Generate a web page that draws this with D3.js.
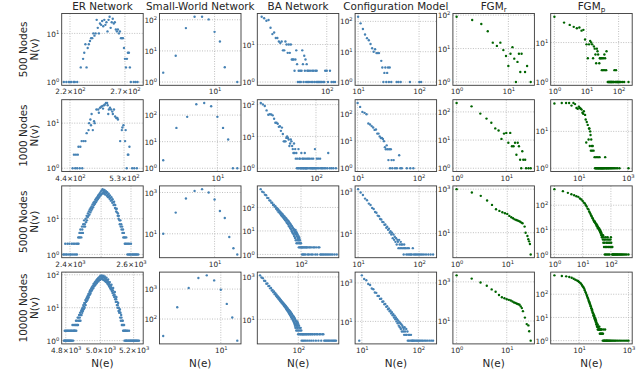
<!DOCTYPE html>
<html>
<head>
<meta charset="utf-8">
<script src="https://cdn.jsdelivr.net/npm/d3@7"></script>
<style>
  body { margin: 0; background: #fff; }
  svg text { font-family: "DejaVu Sans", sans-serif; fill: #262626; }
</style>
</head>
<body>
<svg id="chart" width="637" height="373"></svg>
<script>
const rowLabels = ['500 Nodes', '1000 Nodes', '5000 Nodes', '10000 Nodes'];
const colTitles = [['ER Network'], ['Small-World Network'], ['BA Network'], ['Configuration Model'], ['FGM', 'r'], ['FGM', 'p']];

// ---- 500 nodes
const er500 = [[215,1],[217,1],[219,1],[220,1],[221,1],[223,1],[224,1],[226,1],[229,2],[231,3],[232,4],[233,6],[234,2],[235,5],[236,6],[237,7],[238,8],[239,8],[240,10],[241,9],[242,10],[243,19],[244,13],[245,10],[246,16],[247,15],[248,18],[249,14],[250,19],[251,15],[252,17],[253,11],[254,19],[255,22],[256,13],[257,17],[258,20],[259,16],[260,17],[261,12],[262,11],[263,12],[264,10],[265,11],[266,8],[267,8],[268,8],[269,5],[270,3],[271,2],[272,3],[273,4],[274,4],[275,2],[276,1],[279,1],[281,1],[283,1]];
const sw500 = [[4,2],[5,7],[6,54],[7,125],[8,125],[9,103],[10,41],[11,20],[12,3],[15,1]];
const ba500 = [[12,55],[13,50],[14,43],[15,45],[16,28],[17,19],[18,21],[19,15],[20,15],[21,12],[22,11],[23,12],[24,7],[25,7],[26,12],[27,10],[28,6],[29,10],[30,6],[31,10],[32,4],[33,4],[34,4],[35,2],[36,4],[37,7],[38,3],[39,1],[40,2],[41,1],[42,2],[43,1],[44,2],[45,7],[46,3],[47,1],[48,5],[49,2],[50,4],[51,1],[52,3],[53,2],[54,1],[55,2],[56,1],[58,2],[60,1],[62,2],[63,1],[65,2],[67,1],[69,2],[71,1],[72,2],[74,1],[76,1],[79,1],[82,1],[85,1],[89,1],[92,1],[95,2],[100,2],[104,1],[111,2],[117,1],[124,1],[131,1]];
const cm500 = [[10,142],[11,86],[12,56],[13,37],[14,28],[15,24],[16,18],[17,13],[18,10],[19,12],[20,9],[21,9],[22,9],[24,5],[25,3],[26,1],[27,2],[28,3],[29,1],[30,2],[31,3],[32,1],[33,3],[35,1],[43,1],[46,1],[50,1],[71,1],[101,1],[108,1]];
const fgmr500 = [[1,89],[2,71],[3,54],[4,33],[5,15],[6,12],[7,15],[8,9],[9,6],[10,3],[11,7],[12,11],[13,5],[14,1],[15,4],[16,7],[17,2],[18,7],[21,2],[23,3],[27,1]];
const fgmp500 = [[1,45],[2,32],[3,28],[4,25],[5,23],[6,24],[7,20],[8,21],[9,12],[10,9],[11,4],[12,9],[13,11],[14,10],[15,9],[16,4],[17,8],[18,7],[19,5],[20,3],[21,7],[22,6],[23,5],[25,3],[26,4],[27,4],[29,4],[30,2],[31,4],[33,2],[34,4],[36,5],[37,2],[38,4],[41,2],[42,6],[46,1],[48,1],[50,1],[52,1],[54,1],[56,1],[58,1],[60,1],[62,1],[65,1],[68,1],[70,1],[74,2],[77,1],[80,1],[83,2],[86,1],[89,1],[93,1],[96,1],[100,1],[104,1],[110,1],[118,1],[133,1],[149,1],[203,1]];

// ---- 1000 nodes
const er1000 = [[444,1],[446,2],[448,1],[449,2],[451,1],[452,2],[453,3],[455,1],[456,3],[458,4],[459,1],[461,4],[464,4],[466,6],[469,7],[470,10],[472,12],[473,9],[474,16],[476,7],[478,11],[479,10],[482,20],[485,20],[486,17],[488,22],[490,23],[492,24],[493,21],[495,25],[496,26],[498,28],[500,28],[501,25],[502,16],[503,20],[505,22],[507,20],[509,18],[510,16],[512,20],[514,14],[516,13],[518,13],[519,12],[523,4],[526,7],[527,8],[529,9],[532,4],[533,7],[535,1],[537,2],[538,2],[540,3],[545,1],[549,1],[554,1]];
const sw1000 = [[4,2],[5,33],[6,86],[7,256],[8,286],[9,214],[10,86],[11,33],[12,12],[13,1],[14,1]];
const ba1000 = [[12,113],[13,102],[14,91],[15,66],[16,48],[17,50],[18,49],[19,46],[20,36],[21,27],[22,27],[23,25],[24,20],[25,21],[26,15],[27,19],[28,12],[29,7],[30,7],[31,7],[32,9],[33,10],[34,9],[35,8],[36,5],[37,6],[38,8],[39,7],[40,5],[41,4],[42,3],[43,6],[44,3],[45,4],[46,2],[47,3],[48,1],[49,2],[50,1],[51,4],[52,1],[53,2],[54,2],[55,1],[56,1],[57,3],[58,1],[59,2],[60,1],[61,2],[62,1],[63,1],[64,2],[65,3],[66,1],[67,1],[68,2],[69,1],[70,1],[72,2],[73,1],[75,2],[77,1],[79,2],[81,1],[83,1],[85,2],[87,1],[88,1],[90,2],[92,1],[94,1],[96,4],[99,1],[100,1],[103,2],[106,1],[109,2],[112,1],[117,2],[120,1],[125,1],[130,1],[137,1],[145,1],[155,1],[160,3],[170,1],[182,1],[195,1],[215,1]];
const cm1000 = [[10,257],[11,184],[12,120],[13,111],[14,99],[15,45],[16,41],[17,36],[18,32],[19,26],[20,27],[21,19],[22,19],[23,15],[24,13],[25,13],[26,12],[27,10],[28,6],[29,5],[30,7],[31,5],[32,2],[33,5],[34,1],[35,5],[36,2],[37,1],[39,2],[41,1],[44,1],[48,3],[50,1],[53,1],[64,1],[73,1],[82,1]];
const fgmr1000 = [[1,208],[2,158],[3,87],[4,58],[5,41],[6,26],[7,22],[8,11],[9,17],[10,18],[11,8],[12,18],[13,6],[14,6],[15,8],[16,3],[17,8],[18,6],[19,2],[20,1],[21,4],[22,2],[24,2],[25,1],[28,1],[31,1]];
const fgmp1000 = [[1,57],[2,59],[3,59],[4,59],[5,50],[6,59],[7,55],[8,43],[9,41],[10,47],[11,43],[12,41],[13,39],[14,32],[15,30],[16,35],[18,28],[19,21],[20,5],[21,18],[23,15],[25,6],[26,12],[27,12],[28,4],[29,10],[30,8],[31,3],[32,6],[34,4],[35,3],[37,4],[40,3],[44,2],[46,1],[48,1],[51,2],[53,1],[55,1],[57,1],[60,2],[63,1],[65,1],[67,1],[70,2],[73,1],[76,1],[80,1],[84,1],[88,1],[92,1],[97,1],[102,1],[108,1],[114,1],[119,2],[125,1],[131,1],[140,1],[150,1],[160,1],[170,1],[185,1],[200,1],[215,1],[235,1],[260,1],[290,1],[330,1],[380,1],[458,1],[1069,1]];

// ---- 5000 nodes
const er5000 = [[2379,1],[2382,1],[2385,2],[2387,1],[2390,1],[2392,2],[2395,1],[2398,2],[2400,1],[2403,1],[2405,2],[2408,1],[2410,2],[2413,1],[2415,2],[2418,1],[2420,2],[2422,1],[2424,2],
  [2426,3],[2427,2],[2429,3],[2430,4],[2432,3],[2433,5],[2435,4],[2436,3],[2438,6],[2439,5],[2441,4],[2442,7],[2444,6],[2445,9],[2447,7],[2448,6],[2450,10],[2451,8],[2453,12],[2454,9],
  [2456,11],[2457,14],[2459,12],[2460,16],[2462,13],[2463,18],[2465,15],[2466,20],[2468,17],[2469,22],[2471,19],[2472,25],[2474,21],[2475,28],[2477,24],[2478,30],[2480,26],[2481,34],[2483,29],[2484,37],
  [2486,32],[2487,40],[2489,35],[2490,44],[2492,38],[2493,48],[2495,41],[2496,52],[2498,45],[2499,57],[2501,48],[2502,62],[2504,51],[2505,67],[2507,54],[2508,60],[2510,50],[2511,64],[2513,56],[2514,47],
  [2516,59],[2517,52],[2519,44],[2520,55],[2522,47],[2523,40],[2525,50],[2526,42],[2528,36],[2529,45],[2531,38],[2532,32],[2534,40],[2535,33],[2537,28],[2538,35],[2540,29],[2541,24],[2543,30],[2544,25],
  [2546,20],[2547,24],[2549,19],[2550,16],[2552,19],[2553,15],[2555,12],[2556,14],[2558,10],[2559,12],[2561,9],[2562,7],[2564,9],[2565,6],[2567,7],[2568,5],[2570,6],[2571,4],[2573,5],[2574,3],
  [2576,4],[2577,3],[2579,2],[2580,3],[2582,2],[2584,3],[2586,2],[2588,1],[2590,2],[2592,1],[2594,2],[2596,1],[2598,1],[2600,2],[2603,1],[2606,1],[2609,1],[2612,1],[2615,1],[2618,1],[2621,1],[2625,1]];
const sw5000 = [[4,10],[5,106],[6,509],[7,1197],[8,1449],[9,1000],[10,456],[11,127],[12,58],[13,7],[14,2],[15,1]];
const ba5000 = [[12,600],[13,470],[14,440],[15,350],[16,330],[17,255],[18,250],[19,200],[20,195],[21,160],[22,158],[23,128],[24,132],[25,108],[26,112],[27,88],[28,96],[29,74],[30,84],[31,63],[32,72],[33,55],[34,64],[35,48],[36,57],[37,42],[38,51],[39,37],[40,45],[41,33],[42,41],[43,29],[44,37],[45,27],[46,34],[47,23],[48,30],[49,21],[50,28],[51,19],[52,26],[53,16],[54,23],[55,15],[56,21],[57,13],[58,19],[59,12],[60,17],[61,10],[62,16],[63,9],[64,14],[65,8],[66,13],[67,11],[68,7],[69,12],[70,6],[71,10],[72,9],[73,5],[74,8],[75,11],[76,4],[77,7],[78,9],[79,3],[80,6],[81,8],[82,4],[83,5],[84,7],[85,3],[86,5],[87,4],[88,6],[89,2],[90,4],[91,3],[92,5],[93,2],[95,4],[96,3],[98,2],[100,3],[101,2],[104,2],[106,1],[108,2],[110,2],[112,1],[115,2],[118,1],[120,2],[124,2],[127,1],[130,2],[134,2],[138,2],[142,1],[147,2],[152,1],[157,2],[163,2],[170,1],[177,2],[185,1],[193,2],[202,2],[212,1],[222,2],[235,1],[248,2],[262,2],[275,1],[290,1],[310,1],[330,1],[355,1],[380,1],[410,1],[440,1],[480,1],[520,1],[580,1],[653,1]];
const cm5000 = [[10,1327],[11,920],[12,700],[13,470],[14,390],[15,270],[16,230],[17,168],[18,150],[19,108],[20,98],[21,72],[22,68],[23,50],[24,47],[25,36],[26,35],[27,26],[28,27],[29,19],[30,21],[31,15],[32,17],[33,11],[34,13],[35,9],[36,11],[37,6],[38,9],[39,5],[40,7],[41,4],[42,6],[43,3],[44,5],[45,4],[46,2],[47,5],[48,3],[49,2],[50,4],[51,3],[52,2],[53,3],[55,2],[56,1],[57,3],[58,2],[60,2],[62,1],[64,2],[66,1],[68,2],[70,1],[73,1],[76,1],[79,2],[82,1],[86,1],[90,1],[95,1],[100,1],[106,1],[112,1],[120,1],[130,1],[142,1],[155,1],[170,1]];
const fgmr5000 = [[1,1000],[2,702],[3,492],[4,300],[5,189],[6,119],[7,100],[8,87],[9,78],[10,73],[11,59],[12,51],[13,46],[14,41],[15,38],[16,36],[17,34],[18,32],[19,29],[20,27],[22,19],[23,10],[25,7],[26,5],[27,4],[28,3],[29,1]];
const fgmp5000 = [[1,450],[2,373],[3,318],[4,281],[5,256],[6,233],[7,219],[8,187],[9,170],[10,150],[11,128],[12,117],[13,100],[14,88],[15,73],[16,68],[17,56],[18,50],[19,44],[20,38],[21,35],[22,30],[23,29],[24,25],[25,23],[26,21],[27,22],[28,19],[29,18],[30,16],[31,17],[32,14],[33,15],[34,12],[35,13],[36,11],[37,12],[38,10],[39,11],[40,9],[41,10],[42,8],[43,9],[44,7],[45,8],[46,6],[47,7],[48,5],[49,6],[50,5],[52,4],[53,6],[54,3],[56,5],[57,2],[58,4],[60,3],[61,1],[63,4],[64,2],[66,5],[67,1],[69,3],[70,2],[72,4],[74,1],[75,3],[77,5],[79,2],[80,4],[82,1],[84,3],[86,2],[88,4],[90,1],[92,3],[95,2],[97,4],[100,5],[103,3],[106,2],[110,1],[113,2],[117,1],[120,1],[126,1],[132,1],[140,1],[148,1],[156,1],[165,1],[175,1],[186,1],[198,1],[212,1],[228,1],[245,1],[265,1],[290,1],[320,1],[360,1],[420,1]];

// ---- 10000 nodes
const er10000 = [[4790,1],[4792,1],[4794,2],[4796,1],[4798,1],[4800,2],[4802,1],[4804,1],[4806,2],[4808,1],[4810,2],[4812,1],[4814,1],[4816,2],[4818,1],[4820,2],[4822,1],[4824,1],[4826,2],[4828,1],[4830,2],[4832,1],[4834,2],[4836,1],[4838,3],[4840,2],[4842,1],[4844,2],[4846,3],[4848,2],
  [4850,2],[4852,3],[4854,2],[4856,3],[4858,4],[4860,2],[4862,3],[4864,4],[4866,3],[4868,5],[4870,3],[4872,5],[4874,4],[4876,6],[4878,4],[4880,5],[4882,7],[4884,4],[4886,6],[4888,8],
  [4890,6],[4892,9],[4894,7],[4896,10],[4898,8],[4900,12],[4902,9],[4904,11],[4906,14],[4908,10],[4910,13],[4912,17],[4914,12],[4916,15],[4918,19],[4920,16],[4922,21],[4924,17],[4926,23],[4928,19],
  [4930,26],[4932,21],[4934,24],[4936,30],[4938,25],[4940,34],[4942,27],[4944,31],[4946,38],[4948,32],[4950,42],[4952,35],[4954,40],[4956,47],[4958,39],[4960,53],[4962,44],[4964,49],[4966,57],[4968,47],
  [4970,62],[4972,51],[4974,58],[4976,67],[4978,55],[4980,72],[4982,60],[4984,66],[4986,78],[4988,63],[4990,82],[4992,68],[4994,74],[4996,88],[4998,70],[5000,92],[5002,74],[5004,85],[5006,96],[5008,76],
  [5010,90],[5012,73],[5014,84],[5016,94],[5018,71],[5020,86],[5022,68],[5024,80],[5026,89],[5028,65],[5030,78],[5032,61],[5034,72],[5036,82],[5038,58],[5040,68],[5042,53],[5044,62],[5046,72],[5048,49],
  [5050,57],[5052,44],[5054,52],[5056,60],[5058,40],[5060,47],[5062,36],[5064,42],[5066,50],[5068,32],[5070,38],[5072,28],[5074,34],[5076,40],[5078,24],[5080,29],[5082,21],[5084,25],[5086,30],[5088,18],
  [5090,22],[5092,15],[5094,18],[5096,21],[5098,12],[5100,15],[5102,10],[5104,12],[5106,14],[5108,8],[5110,10],[5112,7],[5114,8],[5116,9],[5118,5],[5120,7],[5122,4],[5124,6],[5126,5],[5128,3],
  [5130,4],[5132,3],[5134,4],[5136,2],[5138,3],[5140,2],[5142,3],[5144,1],[5146,2],[5148,2],[5150,1],[5152,2],[5154,1],[5156,1],[5158,2],[5160,1],[5163,2],[5166,1],[5169,1],[5172,2],[5175,1],[5178,1],[5182,1],[5186,1],[5190,1],[5194,1],[5198,1],[5202,1],[5206,1],[5210,1],[5214,1],[5218,1],[5222,1],[5227,1],[5233,1]];
const sw10000 = [[4,27],[5,248],[6,1081],[7,2344],[8,2870],[9,1950],[10,947],[11,320],[12,113],[13,19]];
const ba10000 = [[12,1189],[13,940],[14,880],[15,660],[16,640],[17,480],[18,490],[19,370],[20,380],[21,290],[22,305],[23,232],[24,245],[25,190],[26,205],[27,155],[28,170],[29,130],[30,145],[31,110],[32,124],[33,94],[34,108],[35,82],[36,94],[37,72],[38,82],[39,63],[40,73],[41,56],[42,65],[43,50],[44,58],[45,44],[46,52],[47,39],[48,47],[49,35],[50,43],[51,31],[52,39],[53,28],[54,35],[55,25],[56,32],[57,23],[58,29],[59,20],[60,27],[61,18],[62,25],[63,16],[64,23],[65,15],[66,21],[67,13],[68,19],[69,12],[70,18],[71,11],[72,16],[73,10],[74,15],[75,9],[76,14],[77,8],[78,13],[79,7],[80,12],[81,6],[82,11],[83,5],[84,10],[85,4],[86,9],[87,6],[88,8],[89,3],[90,7],[91,5],[92,6],[93,4],[94,8],[95,3],[96,5],[97,7],[98,4],[99,2],[100,6],[102,3],[104,5],[106,2],[108,4],[110,3],[112,2],[114,4],[116,2],[118,3],[120,1],[123,2],[126,2],[129,1],[132,2],[135,2],[139,1],[143,2],[147,2],[151,1],[156,2],[161,2],[166,1],[172,2],[178,2],[184,1],[191,2],[198,2],[205,1],[213,2],[222,2],[231,1],[241,2],[252,2],[264,1],[277,2],[290,2],[305,1],[320,2],[338,2],[356,1],[375,2],[400,2],[420,1],[445,1],[470,1],[500,1],[530,1],[560,1],[600,1],[640,1],[680,1],[720,1],[760,1],[805,1]];
const cm10000 = [[9,1],[10,2472],[11,1600],[12,1380],[13,880],[14,780],[15,510],[16,470],[17,320],[18,305],[19,212],[20,210],[21,148],[22,150],[23,105],[24,108],[25,78],[26,80],[27,57],[28,61],[29,43],[30,47],[31,34],[32,37],[33,26],[34,30],[35,21],[36,24],[37,16],[38,20],[39,13],[40,16],[41,10],[42,13],[43,8],[44,11],[45,6],[46,9],[47,5],[48,8],[49,4],[50,7],[51,3],[52,6],[53,5],[54,3],[55,4],[56,2],[57,5],[58,3],[60,2],[61,4],[62,2],[64,3],[65,1],[67,2],[68,1],[70,2],[72,1],[74,2],[76,1],[78,1],[80,1],[83,1],[86,1],[90,1],[94,1],[98,1],[103,1],[108,1],[114,1],[120,1],[128,1],[136,1],[146,1],[158,1],[170,1],[182,1]];
const fgmr10000 = [[1,2154],[2,1468],[3,926],[4,631],[5,414],[6,316],[7,215],[8,165],[9,147],[10,131],[11,121],[12,112],[13,100],[14,89],[15,83],[16,76],[17,72],[18,68],[19,56],[20,46],[21,32],[23,15],[25,7],[27,6],[28,3],[30,1]];
const fgmp10000 = [[1,652],[2,610],[3,591],[4,553],[5,518],[6,469],[7,425],[8,398],[9,370],[10,338],[11,310],[12,287],[13,250],[14,220],[15,200],[16,175],[17,150],[18,126],[19,112],[20,95],[21,84],[22,72],[23,66],[24,57],[25,50],[26,45],[27,40],[28,36],[29,31],[30,30],[31,25],[32,24],[33,20],[34,21],[35,17],[36,16],[37,15],[38,12],[39,13],[40,11],[41,12],[42,9],[43,10],[44,8],[45,9],[46,7],[47,8],[48,6],[49,7],[50,5],[51,6],[52,5],[53,4],[54,5],[55,4],[56,5],[57,3],[58,4],[59,4],[60,3],[62,4],[63,3],[65,3],[66,4],[68,3],[69,2],[71,3],[72,2],[74,3],[76,2],[78,3],[80,2],[83,3],[85,2],[88,2],[91,1],[93,2],[97,3],[100,1],[104,1],[108,1],[113,3],[118,1],[124,1],[130,1],[137,1],[145,1],[155,1],[165,1],[178,1],[192,1],[210,1],[230,1],[255,1],[285,1],[320,1],[370,1],[430,1],[500,1],[600,1],[720,1],[860,1],[1000,1]];

const grid = [
  [er500, sw500, ba500, cm500, fgmr500, fgmp500],
  [er1000, sw1000, ba1000, cm1000, fgmr1000, fgmp1000],
  [er5000, sw5000, ba5000, cm5000, fgmr5000, fgmp5000],
  [er10000, sw10000, ba10000, cm10000, fgmr10000, fgmp10000]
];

// tick values shown on each panel
const xTicks = [
  [[220, 270], [10], [100], [10, 100], [1, 10], [1, 10, 100]],
  [[440, 530], [10], [100], [10, 100], [1, 10], [10, 1000]],
  [[2400, 2600], [10], [100], [10, 100], [1, 10], [1, 10, 100]],
  [[4800, 5000, 5200], [10], [100], [10, 100], [1, 10], [10, 1000]]
];
// extra vertical grid lines without a label
const xGridExtra = [[[], [], [], [], [], []], [[], [], [], [], [], []], [[2500], [], [], [], [], []], [[], [], [], [], [], []]];
const yTicks = [
  [[1, 10], [1, 10, 100], [1, 10], [1, 10, 100], [1, 10, 100], [1, 10]],
  [[1, 10], [1, 10, 100], [1, 10, 100], [1, 10, 100], [1, 10, 100], [1, 10]],
  [[1, 10], [10, 1000], [1, 10, 100], [10, 1000], [10, 1000], [1, 10, 100]],
  [[1, 10, 100], [100, 1000], [10, 1000], [10, 1000], [10, 1000], [1, 10, 100]]
];
// fixed x limits where the plot did not simply pad the data
const xLimits = [
  [[213.3, 289], null, [10.4, 148], [8.93, 194], null, null],
  [[427.6, 566.2], null, [10.5, 240], [9.1, 197], null, null],
  [[2374, 2642], null, [10.05, 729], [8.93, 194], null, null],
  [[4777, 5259], null, [10.3, 942], [7.6, 210], null, null]
];

const svg = d3.select('#chart');
const pw = 81.5, ph = 71.8;
const colX = c => 61.7 + c * 97.8;
const rowY = r => 13.5 + r * 86.2;

function padLog(ext) {
  const a = Math.log10(ext[0]), b = Math.log10(ext[1]);
  const m = (b - a) * 0.05;
  return [Math.pow(10, a - m), Math.pow(10, b + m)];
}

// tick label like 10^2 or 2.2x10^2
function sciLabel(t, v) {
  const p = Math.floor(Math.log10(v) + 1e-9);
  const m = v / Math.pow(10, p);
  t.text(null);
  const base = Math.abs(m - 1) < 1e-9 ? '10' : m.toFixed(1) + '\u00d710';
  t.append('tspan').text(base);
  t.append('tspan').attr('dy', -3).attr('font-size', 5.2).text(p);
}

grid.forEach((row, r) => {
  row.forEach((data, c) => {
    const g = svg.append('g').attr('transform', `translate(${colX(c)},${rowY(r)})`);
    const xd = xLimits[r][c] || padLog(d3.extent(data, d => d[0]));
    const yd = padLog(d3.extent(data, d => d[1]));
    const x = d3.scaleLog().domain(xd).range([0, pw]);
    const y = d3.scaleLog().domain(yd).range([ph, 0]);

    // dotted grid
    g.append('g').selectAll('line').data(xTicks[r][c].concat(xGridExtra[r][c])).enter().append('line')
      .attr('x1', d => x(d)).attr('x2', d => x(d)).attr('y1', 0).attr('y2', ph)
      .attr('stroke', '#b0b0b0').attr('stroke-width', 0.8).attr('stroke-dasharray', '1,1.5');
    g.append('g').selectAll('line').data(yTicks[r][c]).enter().append('line')
      .attr('y1', d => y(d)).attr('y2', d => y(d)).attr('x1', 0).attr('x2', pw)
      .attr('stroke', '#b0b0b0').attr('stroke-width', 0.8).attr('stroke-dasharray', '1,1.5');

    const colour = c >= 4 ? '#006400' : '#4682b4';
    g.append('g').selectAll('circle').data(data).enter().append('circle')
      .attr('cx', d => x(d[0])).attr('cy', d => y(d[1])).attr('r', 1.2)
      .attr('fill', colour);

    // axes
    const ax = g.append('g').attr('transform', `translate(0,${ph})`)
      .call(d3.axisBottom(x).tickValues(xTicks[r][c]).tickSize(0));
    ax.select('.domain').remove();
    ax.selectAll('.tick text').attr('y', 9.2).attr('dy', 0)
      .attr('font-size', 7.3).attr('font-family', 'DejaVu Sans').attr('fill', '#262626')
      .each(function (d) { sciLabel(d3.select(this), d); });

    const ay = g.append('g')
      .call(d3.axisLeft(y).tickValues(yTicks[r][c]).tickSize(0));
    ay.select('.domain').remove();
    ay.selectAll('.tick text').attr('x', -2.5).attr('dy', 0).attr('y', 2.6)
      .attr('font-size', 7.3).attr('font-family', 'DejaVu Sans').attr('fill', '#262626')
      .each(function (d) { sciLabel(d3.select(this), d); });

    g.append('rect').attr('width', pw).attr('height', ph)
      .attr('fill', 'none').attr('stroke', '#3a3a3a').attr('stroke-width', 0.9);
  });
});

// column titles
colTitles.forEach((t, c) => {
  const txt = svg.append('text').attr('x', colX(c) + pw / 2).attr('y', 9.6)
    .attr('text-anchor', 'middle').attr('font-size', 10.4);
  txt.append('tspan').text(t[0]);
  if (t[1]) txt.append('tspan').attr('dy', 2.5).attr('font-size', 7.3).text(t[1]);
});

// row labels
rowLabels.forEach((lab, r) => {
  const cy = rowY(r) + ph / 2;
  svg.append('text').attr('transform', `translate(26.7,${cy}) rotate(-90)`)
    .attr('text-anchor', 'middle').attr('font-size', 10.4).text(lab);
  svg.append('text').attr('transform', `translate(38.3,${cy}) rotate(-90)`)
    .attr('text-anchor', 'middle').attr('font-size', 10.4).text('N(v)');
});

// x labels
d3.range(6).forEach(c => {
  svg.append('text').attr('x', colX(c) + pw / 2).attr('y', 367.3)
    .attr('text-anchor', 'middle').attr('font-size', 10.4).text('N(e)');
});
</script>
</body>
</html>
